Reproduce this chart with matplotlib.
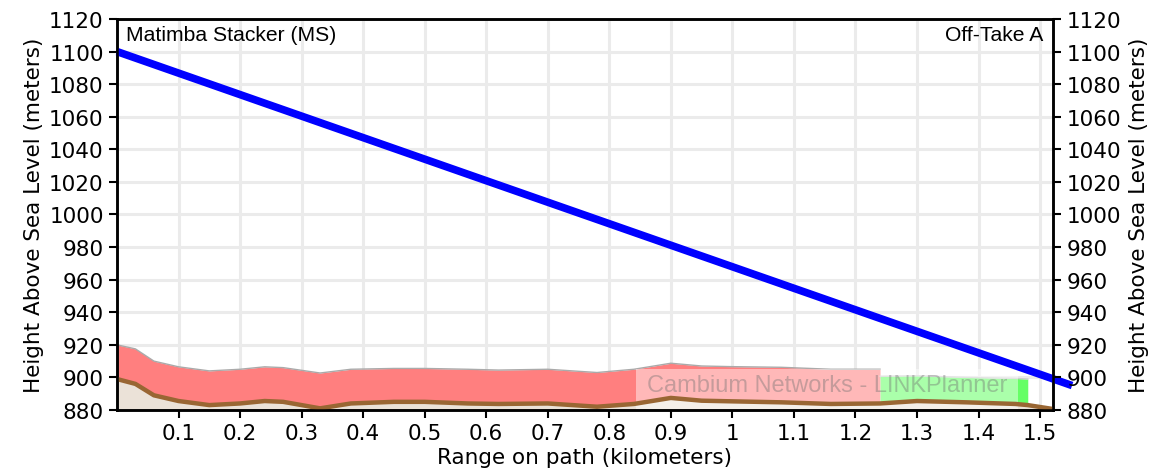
import numpy as np
import matplotlib
matplotlib.use('Agg')
import matplotlib.pyplot as plt

#%% data

dist = [0.0, 0.03, 0.06, 0.1, 0.15, 0.2, 0.24, 0.27, 0.33, 0.38, 0.45, 0.5,
        0.57, 0.62, 0.7, 0.78, 0.84, 0.9, 0.95, 1.0, 1.08, 1.16, 1.24, 1.3,
        1.38, 1.46, 1.48, 1.521]
terrain = [899, 896, 889, 885.5, 883, 884, 885.5, 885, 881, 884, 885, 885,
           884, 883.7, 884, 882, 883.7, 887.4, 885.7, 885.3, 884.7, 883.7, 884, 885.5,
           884.7, 883.7, 883, 880.6]

# obstruction zone (red) top, for dist up to 1.24
red_top = [920, 917.5, 910, 906.5, 904, 905, 906.5, 906, 902.7, 905, 905.5, 905.5,
           905, 904.5, 905, 903, 905, 908.7, 907, 906.6, 906.2, 905, 905]
# clear zone (green)
green_dist = [1.24, 1.3, 1.38, 1.46, 1.48]
green_top = [900.7, 901, 900, 899.4, 899]

# line of sight
los_dist = [0.0, 1.552]
los_height = [1100, 895]

xticks = [0.1, 0.2, 0.3, 0.4, 0.5, 0.6, 0.7, 0.8, 0.9, 1.0, 1.1, 1.2, 1.3, 1.4, 1.5]
xticklabels = ['0.1', '0.2', '0.3', '0.4', '0.5', '0.6', '0.7', '0.8', '0.9', '1',
               '1.1', '1.2', '1.3', '1.4', '1.5']
yticks = list(range(880, 1121, 20))

site_a = 'Matimba Stacker (MS)'
site_b = 'Off-Take A'
watermark = 'Cambium Networks - LINKPlanner'

#%% plot

fs = 15.5
fig = plt.figure(figsize=(11.56, 4.77), dpi=100)
ax = fig.add_axes([0.1012, 0.1384, 0.8097, 0.8197])

d = np.array(dist)
t = np.array(terrain)
nr = len(red_top)

ax.fill_between(d, 880, t, color='#ebe2d8', zorder=1, lw=0)
ax.fill_between(d[:nr], t[:nr], red_top, color='#ff7f7f', zorder=2, lw=0)
ax.plot(d[:nr], red_top, color='#aaaaaa', lw=1, zorder=2)
gd = np.array(green_dist)
ax.fill_between(gd, np.interp(gd, d, t), green_top, color='#66ff66', zorder=2, lw=0)
ax.plot(gd, green_top, color='#cccccc', lw=1, zorder=2)

# watermark box (under the terrain line)
ax.fill_between([0.844, 1.464], 880, 905.2, color='white', alpha=0.45, lw=0, zorder=2.5)
ax.text(1.154, 895.3, watermark, ha='center', va='center', fontsize=17,
        family='Liberation Sans', color='#707070', alpha=0.4, zorder=5)

ax.plot(d, t, color='#996633', lw=3.2, zorder=3, solid_capstyle='butt')

ax.plot(los_dist, los_height, color='#0000ff', lw=5.5, zorder=6, clip_on=False,
        solid_capstyle='butt')

ax.set_xlim(0, 1.521)
ax.set_ylim(880, 1120)
ax.set_xticks(xticks)
ax.set_xticklabels(xticklabels, fontsize=fs)
ax.set_yticks(yticks)
ax.tick_params(axis='y', labelsize=fs, length=6, width=1.5)
ax.tick_params(axis='x', length=6, width=1.5)
ax.grid(True, color='#ebebeb', lw=2.2, zorder=0)
ax.set_axisbelow(True)
for s in ax.spines.values():
    s.set_linewidth(1.8)

ax.set_xlabel('Range on path (kilometers)', fontsize=fs, labelpad=3)
ax.set_ylabel('Height Above Sea Level (meters)', fontsize=fs, labelpad=4)

ax2 = ax.twinx()
ax2.set_ylim(880, 1120)
ax2.set_yticks(yticks)
ax2.tick_params(axis='y', labelsize=fs, length=6, width=1.5)
ax2.set_ylabel('Height Above Sea Level (meters)', fontsize=fs, labelpad=6)
for s in ax2.spines.values():
    s.set_linewidth(1.8)

ax.text(0.01, 0.985, site_a, transform=ax.transAxes, ha='left', va='top',
        fontsize=15.2, family='Liberation Sans', zorder=7)
ax.text(0.99, 0.985, site_b, transform=ax.transAxes, ha='right', va='top',
        fontsize=15.2, family='Liberation Sans', zorder=7)

fig.savefig('out.png', dpi=100)
